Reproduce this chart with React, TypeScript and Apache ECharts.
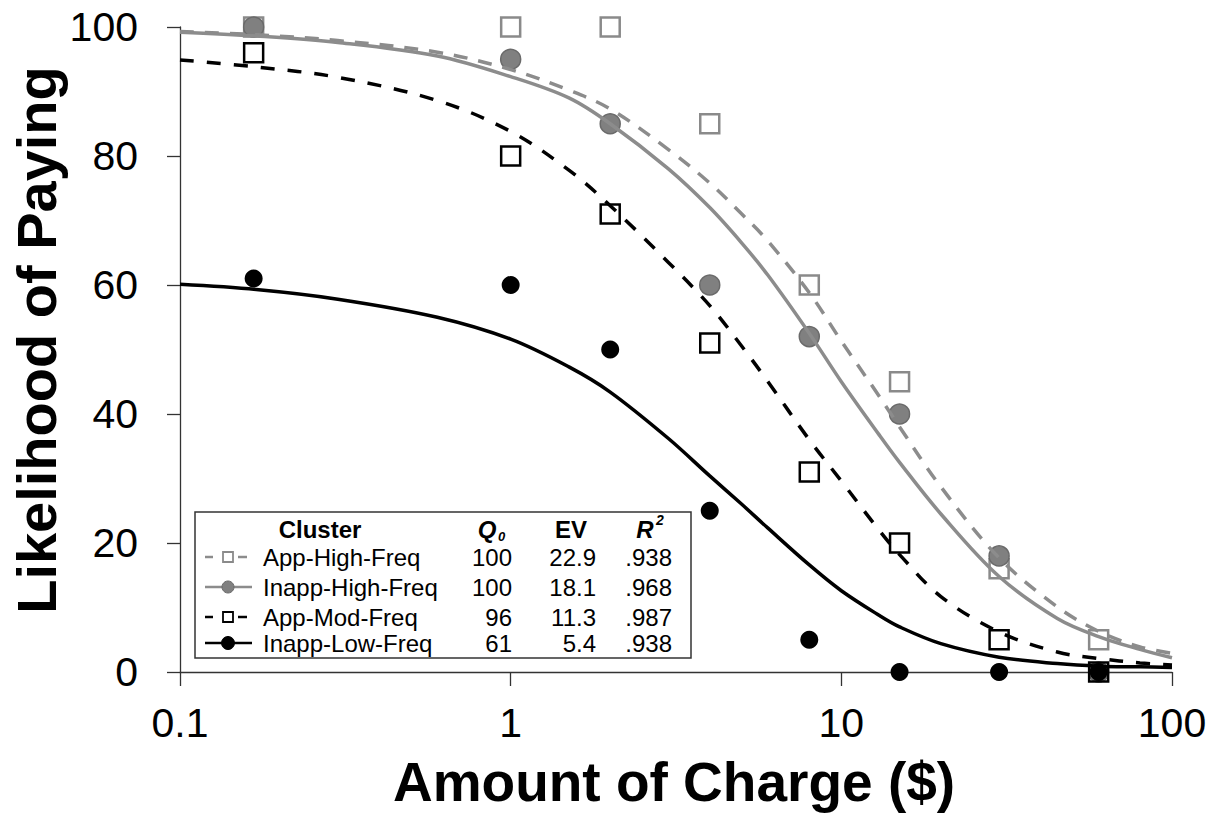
import React, { useEffect, useRef } from "react";
import * as echarts from "echarts";

// Observed data: charge amounts ($) and likelihood of paying (%)
const PRICES = [0.167, 1, 2, 4, 8, 15, 30, 60];
const APP_HIGH = [100, 100, 100, 85, 60, 45, 16, 5];
const INAPP_HIGH = [100, 95, 85, 60, 52, 40, 18, 0];
const APP_MOD = [96, 80, 71, 51, 31, 20, 5, 0];
const INAPP_LOW = [61, 60, 50, 25, 5, 0, 0, 0];

// Fitted curves
const CURVE_X = [0.1, 0.17, 0.3, 0.6, 1, 1.5, 2, 3, 4, 5, 6, 8, 10, 13, 15, 20, 30, 45, 60, 80, 100];
const FIT_APP_HIGH = [99.3, 98.8, 97.9, 96.1, 93.4, 90.2, 87.3, 81.0, 75.8, 71.0, 66.8, 58.8, 51.3, 42.8, 38.0, 28.7, 17.7, 10.1, 6.3, 3.9, 2.9];
const FIT_INAPP_HIGH = [99.2, 98.6, 97.6, 95.5, 92.3, 89.0, 85.0, 78.0, 72.0, 66.5, 61.5, 52.5, 45.0, 36.8, 32.5, 24.5, 14.8, 8.3, 5.5, 3.5, 2.2];
const FIT_APP_MOD = [94.9, 93.8, 92.2, 88.6, 83.8, 77.8, 72.3, 63.5, 56.8, 50.5, 45.0, 36.0, 29.6, 22.0, 18.2, 11.7, 6.2, 3.1, 2.1, 1.4, 1.1];
const FIT_INAPP_LOW = [60.1, 59.3, 57.8, 55.0, 51.6, 47.3, 43.4, 36.2, 30.4, 26.0, 22.3, 16.6, 12.6, 8.8, 7.0, 4.4, 2.3, 1.3, 0.9, 0.8, 0.7];

// Legend table
const LEGEND_NAMES = ["App-High-Freq", "Inapp-High-Freq", "App-Mod-Freq", "Inapp-Low-Freq"];
const LEGEND_Q0 = ["100", "100", "96", "61"];
const LEGEND_EV = ["22.9", "18.1", "11.3", "5.4"];
const LEGEND_R2 = [".938", ".968", ".987", ".938"];

const Y_TICKS = [0, 20, 40, 60, 80, 100];

const FONT = "'Liberation Sans', Arial, Helvetica, sans-serif";
const GRAY_LINE = "#8c8c8c";
const GRAY_SQ = "#8a8a8a";
const GRAY_DOT = "#808080";
const GRAY_DOT_BORDER = "#6a6a6a";

const pairs = (xs: number[], ys: number[]) => xs.map((x, i) => [x, ys[i]]);

export default function App() {
  const ref = useRef<HTMLDivElement>(null);

  useEffect(() => {
    if (!ref.current) return;
    const chart = echarts.init(ref.current, undefined, { renderer: "svg" });

    const rowY = [557, 587, 617, 643];
    const legendGraphics: any[] = [
      {
        type: "rect",
        shape: { x: 195, y: 512, width: 496, height: 146 },
        style: { fill: "#fff", stroke: "#333", lineWidth: 1.5 },
        z: 100,
      },
      {
        type: "text", x: 320, y: 529, z: 101,
        style: { text: "Cluster", font: `bold 24px ${FONT}`, fill: "#000", textAlign: "center", textVerticalAlign: "middle" },
      },
      {
        type: "text", x: 487, y: 529, z: 101,
        style: { text: "Q", font: `italic bold 24px ${FONT}`, fill: "#000", textAlign: "center", textVerticalAlign: "middle" },
      },
      {
        type: "text", x: 498, y: 536, z: 101,
        style: { text: "0", font: `italic bold 13px ${FONT}`, fill: "#000", textAlign: "left", textVerticalAlign: "middle" },
      },
      {
        type: "text", x: 571, y: 529, z: 101,
        style: { text: "EV", font: `bold 24px ${FONT}`, fill: "#000", textAlign: "center", textVerticalAlign: "middle" },
      },
      {
        type: "text", x: 645, y: 529, z: 101,
        style: { text: "R", font: `italic bold 24px ${FONT}`, fill: "#000", textAlign: "center", textVerticalAlign: "middle" },
      },
      {
        type: "text", x: 656, y: 520, z: 101,
        style: { text: "2", font: `italic bold 14px ${FONT}`, fill: "#000", textAlign: "left", textVerticalAlign: "middle" },
      },
    ];

    LEGEND_NAMES.forEach((name, i) => {
      const y = rowY[i];
      legendGraphics.push(
        {
          type: "text", x: 263, y, z: 101,
          style: { text: name, font: `24px ${FONT}`, fill: "#000", textAlign: "left", textVerticalAlign: "middle" },
        },
        {
          type: "text", x: 512, y, z: 101,
          style: { text: LEGEND_Q0[i], font: `24px ${FONT}`, fill: "#000", textAlign: "right", textVerticalAlign: "middle" },
        },
        {
          type: "text", x: 596, y, z: 101,
          style: { text: LEGEND_EV[i], font: `24px ${FONT}`, fill: "#000", textAlign: "right", textVerticalAlign: "middle" },
        },
        {
          type: "text", x: 672, y, z: 101,
          style: { text: LEGEND_R2[i], font: `24px ${FONT}`, fill: "#000", textAlign: "right", textVerticalAlign: "middle" },
        }
      );
      const dashed = i === 0 || i === 2;
      const color = i < 2 ? GRAY_LINE : "#000";
      if (dashed) {
        legendGraphics.push(
          { type: "line", z: 101, shape: { x1: 205, y1: y, x2: 213, y2: y }, style: { stroke: color, lineWidth: 2.5 } },
          { type: "line", z: 101, shape: { x1: 238, y1: y, x2: 247, y2: y }, style: { stroke: color, lineWidth: 2.5 } },
          {
            type: "rect", z: 102,
            shape: { x: 223, y: y - 5, width: 10, height: 10 },
            style: { fill: "none", stroke: i === 0 ? GRAY_SQ : "#000", lineWidth: 1.8 },
          }
        );
      } else {
        legendGraphics.push(
          { type: "line", z: 101, shape: { x1: 205, y1: y, x2: 252, y2: y }, style: { stroke: color, lineWidth: 2.5 } },
          {
            type: "circle", z: 102,
            shape: { cx: 228, cy: y, r: i === 1 ? 6 : 6.5 },
            style: { fill: i === 1 ? GRAY_DOT : "#000", stroke: i === 1 ? GRAY_DOT_BORDER : "#000", lineWidth: 1 },
          }
        );
      }
    });

    const axisLineStyle = { color: "#333", width: 1.3 };

    const option: any = {
      animation: false,
      backgroundColor: "#fff",
      grid: { left: 180, right: 48, top: 27, bottom: 144, containLabel: false },
      xAxis: {
        type: "log",
        logBase: 10,
        min: 0.1,
        max: 100,
        axisLine: { show: true, onZero: false, lineStyle: axisLineStyle },
        axisTick: { show: true, length: 14, lineStyle: axisLineStyle },
        minorTick: { show: false },
        splitLine: { show: false },
        axisLabel: {
          fontSize: 41,
          fontFamily: FONT,
          color: "#000",
          margin: 30,
          formatter: (v: number) => (v < 1 ? v.toFixed(1) : String(Math.round(v))),
        },
      },
      yAxis: {
        type: "value",
        min: Y_TICKS[0],
        max: Y_TICKS[Y_TICKS.length - 1],
        interval: 20,
        axisLine: { show: true, onZero: false, lineStyle: axisLineStyle },
        axisTick: { show: true, length: 13, lineStyle: axisLineStyle },
        splitLine: { show: false },
        axisLabel: { fontSize: 41, fontFamily: FONT, color: "#000", margin: 42 },
      },
      graphic: [
        {
          type: "text",
          x: 674,
          y: 782,
          style: {
            text: "Amount of Charge ($)",
            font: `bold 55px ${FONT}`,
            fill: "#000",
            textAlign: "center",
            textVerticalAlign: "middle",
          },
        },
        {
          type: "text",
          x: 36,
          y: 340,
          rotation: Math.PI / 2,
          style: {
            text: "Likelihood of Paying",
            font: `bold 56px ${FONT}`,
            fill: "#000",
            textAlign: "center",
            textVerticalAlign: "middle",
          },
        },
        ...legendGraphics,
      ],
      series: [
        {
          name: "App-High-Freq points",
          type: "scatter",
          data: pairs(PRICES, APP_HIGH),
          symbol: "rect",
          symbolSize: 19,
          clip: false,
          z: 2,
          itemStyle: { color: "rgba(0,0,0,0)", borderColor: GRAY_SQ, borderWidth: 2.5, opacity: 1 },
        },
        {
          name: "Inapp-High-Freq points",
          type: "scatter",
          data: pairs(PRICES, INAPP_HIGH),
          symbol: "circle",
          symbolSize: 20,
          clip: false,
          z: 2,
          itemStyle: { color: GRAY_DOT, borderColor: GRAY_DOT_BORDER, borderWidth: 1.5, opacity: 1 },
        },
        {
          name: "App-Mod-Freq points",
          type: "scatter",
          data: pairs(PRICES, APP_MOD),
          symbol: "rect",
          symbolSize: 19,
          clip: false,
          z: 2,
          itemStyle: { color: "rgba(0,0,0,0)", borderColor: "#000", borderWidth: 2.5, opacity: 1 },
        },
        {
          name: "Inapp-Low-Freq points",
          type: "scatter",
          data: pairs(PRICES, INAPP_LOW),
          symbol: "circle",
          symbolSize: 18,
          clip: false,
          z: 2,
          itemStyle: { color: "#000", opacity: 1 },
        },
        {
          name: "App-High-Freq fit",
          type: "line",
          data: pairs(CURVE_X, FIT_APP_HIGH),
          showSymbol: false,
          symbol: "none",
          smooth: 0.35,
          z: 3,
          lineStyle: { color: GRAY_LINE, width: 3.5, type: [14, 11] },
        },
        {
          name: "Inapp-High-Freq fit",
          type: "line",
          data: pairs(CURVE_X, FIT_INAPP_HIGH),
          showSymbol: false,
          symbol: "none",
          smooth: 0.35,
          z: 3,
          lineStyle: { color: GRAY_LINE, width: 3.5, type: "solid" },
        },
        {
          name: "App-Mod-Freq fit",
          type: "line",
          data: pairs(CURVE_X, FIT_APP_MOD),
          showSymbol: false,
          symbol: "none",
          smooth: 0.35,
          z: 3,
          lineStyle: { color: "#000", width: 3.5, type: [14, 13] },
        },
        {
          name: "Inapp-Low-Freq fit",
          type: "line",
          data: pairs(CURVE_X, FIT_INAPP_LOW),
          showSymbol: false,
          symbol: "none",
          smooth: 0.35,
          z: 3,
          lineStyle: { color: "#000", width: 3.5, type: "solid" },
        },
      ],
    };

    chart.setOption(option);
    return () => chart.dispose();
  }, []);

  return (
    <div
      ref={ref}
      style={{ position: "fixed", left: 0, top: 0, width: 1220, height: 816, background: "#fff" }}
    />
  );
}
